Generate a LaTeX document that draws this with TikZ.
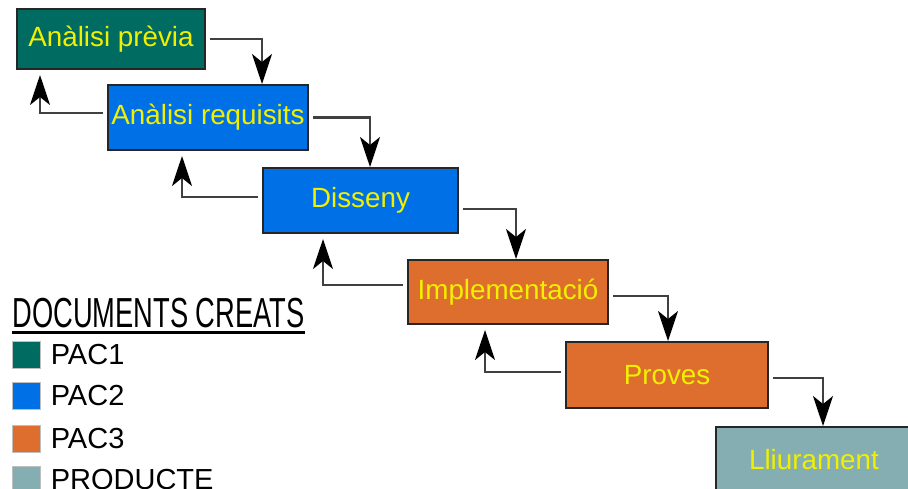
\documentclass[tikz,border=0pt]{standalone}
\usepackage{fontspec}
\setmainfont{Liberation Sans}
\usepackage{graphicx}
\usetikzlibrary{arrows.meta}
\usetikzlibrary{calc}
\definecolor{pacone}{RGB}{0,107,96}
\definecolor{pactwo}{RGB}{0,112,230}
\definecolor{pacthree}{RGB}{222,110,45}
\definecolor{product}{RGB}{132,174,178}
\definecolor{phasetext}{RGB}{240,240,0}
\tikzset{
	phase/.style={
		draw=black!85,
		line width=1pt,
		rectangle,
		inner sep=0pt,
		text=phasetext,
		font=\fontsize{13.9}{16}\selectfont,
	},
	forward/.style={
		draw=black!75,
		line width=1.2pt,
		shorten <=2pt,
		-{Stealth[length=15pt,width=10pt,inset=4pt,color=black]}
	},
	backward/.style={
		forward,
		shorten >=2.5pt,
	},
	swatch/.style={
		draw=black!25,
		line width=0.4pt,
		minimum width=14pt,
		minimum height=13.5pt,
		inner sep=0pt,
	},
	legend/.style={
		anchor=west,
		inner sep=0pt,
		font=\fontsize{14.5}{17}\selectfont,
	},
}

\begin{document}
\begin{tikzpicture}[x=0.5pt,y=-0.5pt]
		\useasboundingbox (0,0) rectangle (908,488);
		\clip (0,0) rectangle (908,488);

		\node[phase, fill=pacone, minimum width=94pt, minimum height=30pt] (previa) at (111,39) {Anàlisi prèvia};
		\node[phase, fill=pactwo, minimum width=100pt, minimum height=32.5pt] (requisits) at (208,117.5) {Anàlisi requisits};
		\node[phase, fill=pactwo, minimum width=97.5pt, minimum height=32.5pt] (disseny) at (360.5,200.5) {Disseny};
		\node[phase, fill=pacthree, minimum width=100pt, minimum height=32pt] (implementacio) at (508,292) {Implementació};
		\node[phase, fill=pacthree, minimum width=101pt, minimum height=33pt] (proves) at (667,375) {Proves};
		\node[phase, fill=product, minimum width=98pt, minimum height=32.5pt] (lliurament) at (814,459.5) {Lliurament};

		% turning points of the connectors
		\coordinate (down1) at (262,0);
		\coordinate (down2) at (370,0);
		\coordinate (down3) at (516,0);
		\coordinate (down4) at (668,0);
		\coordinate (down5) at (823,0);
		\coordinate (up1) at (40,0);
		\coordinate (up2) at (182,0);
		\coordinate (up3) at (323,0);
		\coordinate (up4) at (485,0);

		\draw[forward] (previa.east) -| (down1 |- requisits.north);
		\draw[forward] (requisits.east) -| (down2 |- disseny.north);
		\draw[forward] ([yshift=-4.25pt]disseny.east) -| (down3 |- implementacio.north);
		\draw[forward] ([yshift=-2pt]implementacio.east) -| (down4 |- proves.north);
		\draw[forward] ([yshift=-1.5pt]proves.east) -| (down5 |- lliurament.north);

		\draw[backward] ([yshift=2.25pt]requisits.west) -| (up1 |- previa.south);
		\draw[backward] ([yshift=1.75pt]disseny.west) -| (up2 |- requisits.south);
		\draw[backward] ([yshift=3.5pt]implementacio.west) -| (up3 |- disseny.south);
		\draw[backward] ([yshift=1.5pt]proves.west) -| (up4 |- implementacio.south);

		% legend
		\node[anchor=base west, inner sep=0pt, font=\fontsize{21}{24}\selectfont] (docs) at (12,327) {\scalebox{0.65}[1]{DOCUMENTS CREATS}};
		\draw[line width=1.5pt] ([yshift=-2.5pt]docs.base west) -- ([yshift=-2.5pt]docs.base east);

		\node[swatch, fill=pacone] (sw1) at (26,354.5) {};
		\node[swatch, fill=pactwo] (sw2) at (26,396) {};
		\node[swatch, fill=pacthree] (sw3) at (26,438.5) {};
		\node[swatch, fill=product] (sw4) at (26,480) {};

		\node[legend] (pac1) at ([xshift=5pt]sw1.east) {PAC1};
		\node[legend] (pac2) at ([xshift=5pt]sw2.east) {PAC2};
		\node[legend] (pac3) at ([xshift=5pt]sw3.east) {PAC3};
		\node[legend] (producte) at ([xshift=5pt]sw4.east) {PRODUCTE};

	\end{tikzpicture}
\end{document}
